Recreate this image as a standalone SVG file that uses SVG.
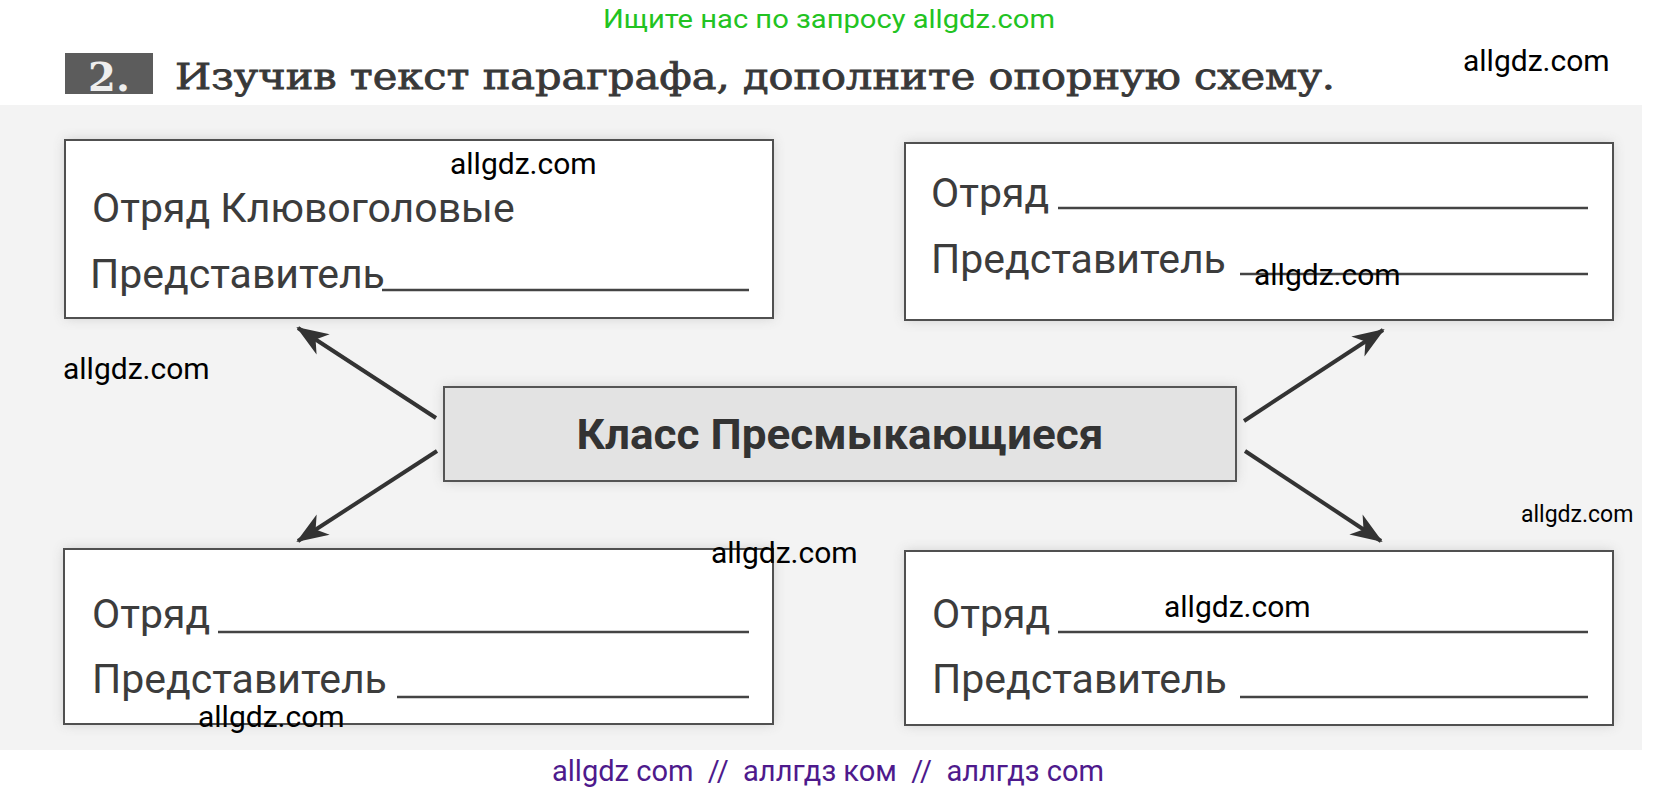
<svg xmlns="http://www.w3.org/2000/svg" width="1657" height="794" viewBox="0 0 1657 794">
<style>
.box{fill:#ffffff;stroke:#505050;stroke-width:2}
.cbox{fill:#e3e3e3;stroke:#555555;stroke-width:2}
.lbl{font-family:Roboto,"Liberation Sans",sans-serif;font-size:41px;fill:#3c3c3c}
.ul{stroke:#444444;stroke-width:2.5}
.arr{stroke:#333333;stroke-width:4;fill:none;marker-end:url(#ah)}
.wm{font-family:Roboto,"Liberation Sans",sans-serif;font-size:30px;fill:#000000}
.wms{font-family:Roboto,"Liberation Sans",sans-serif;font-size:23px;fill:#000000}
</style>
<defs>
<marker id="ah" markerUnits="userSpaceOnUse" markerWidth="40" markerHeight="30" viewBox="-32 -15 34 30" refX="0" refY="0" orient="auto">
<path d="M2,0 L-30,-12 L-21,0 L-30,12 Z" fill="#333333"/>
</marker>
<filter id="sh" x="-5%" y="-15%" width="110%" height="130%">
<feGaussianBlur stdDeviation="6"/>
</filter>
</defs>
<rect x="0" y="0" width="1657" height="794" fill="#ffffff"/>
<rect x="0" y="105" width="1642" height="645" fill="#f3f3f3"/>
<text x="829" y="28" text-anchor="middle" font-family="Roboto,'Liberation Sans',sans-serif" font-size="26" fill="#22c322" textLength="452" lengthAdjust="spacingAndGlyphs">Ищите нас по запросу allgdz.com</text>
<g id="title">
<rect x="65" y="53" width="88" height="41" fill="#5c5c5c"/>
<text x="109" y="91" text-anchor="middle" font-family="'DejaVu Serif','Liberation Serif',serif" font-weight="bold" font-size="40" fill="#eeeeee">2.</text>
<text x="175" y="89" font-family="'DejaVu Serif','Liberation Serif',serif" font-size="35" fill="#383838" stroke="#383838" stroke-width="0.8" textLength="1160" lengthAdjust="spacingAndGlyphs">Изучив текст параграфа, дополните опорную схему.</text>
</g>
<g id="shadows" fill="#9a9a9a" opacity="0.45" filter="url(#sh)">
<rect x="65" y="140" width="708" height="178"/>
<rect x="905" y="143" width="708" height="177"/>
<rect x="444" y="387" width="792" height="94"/>
<rect x="64" y="549" width="709" height="175"/>
<rect x="905" y="551" width="708" height="174"/>
</g>
<g id="connectors">
<line class="arr" x1="436" y1="418" x2="298" y2="328"/>
<line class="arr" x1="437" y1="451" x2="298" y2="541"/>
<line class="arr" x1="1244" y1="421" x2="1383" y2="330"/>
<line class="arr" x1="1245" y1="451" x2="1381" y2="541"/>
</g>
<g id="node-top-left">
<rect class="box" x="65" y="140" width="708" height="178"/>
<text class="lbl" x="92" y="222">Отряд Клювоголовые</text>
<text class="lbl" x="90" y="288">Представитель</text>
<line class="ul" x1="382" y1="290" x2="749" y2="290"/>
</g>
<g id="node-top-right">
<rect class="box" x="905" y="143" width="708" height="177"/>
<text class="lbl" x="931" y="207">Отряд</text>
<line class="ul" x1="1058" y1="208" x2="1588" y2="208"/>
<text class="lbl" x="931" y="273">Представитель</text>
<line class="ul" x1="1240" y1="274" x2="1588" y2="274"/>
</g>
<g id="node-center">
<rect class="cbox" x="444" y="387" width="792" height="94"/>
<text x="840" y="449" text-anchor="middle" font-family="Roboto,'Liberation Sans',sans-serif" font-weight="bold" font-size="42" fill="#333333" textLength="527" lengthAdjust="spacingAndGlyphs">Класс Пресмыкающиеся</text>
</g>
<g id="node-bottom-left">
<rect class="box" x="64" y="549" width="709" height="175"/>
<text class="lbl" x="92" y="628">Отряд</text>
<line class="ul" x1="218" y1="632" x2="749" y2="632"/>
<text class="lbl" x="92" y="693">Представитель</text>
<line class="ul" x1="397" y1="697" x2="749" y2="697"/>
</g>
<g id="node-bottom-right">
<rect class="box" x="905" y="551" width="708" height="174"/>
<text class="lbl" x="932" y="628">Отряд</text>
<line class="ul" x1="1058" y1="632" x2="1588" y2="632"/>
<text class="lbl" x="932" y="693">Представитель</text>
<line class="ul" x1="1240" y1="697" x2="1588" y2="697"/>
</g>
<g id="watermarks">
<text class="wm" x="1463" y="71">allgdz.com</text>
<text class="wm" x="450" y="174">allgdz.com</text>
<text class="wm" x="63" y="379">allgdz.com</text>
<text class="wm" x="1254" y="285">allgdz.com</text>
<text class="wm" x="711" y="563">allgdz.com</text>
<text class="wms" x="1521" y="522">allgdz.com</text>
<text class="wm" x="1164" y="617">allgdz.com</text>
<text class="wm" x="198" y="727">allgdz.com</text>
<text x="552" y="781" font-family="Roboto,'Liberation Sans',sans-serif" font-size="29" fill="#4e1a8c" style="white-space:pre" textLength="552" lengthAdjust="spacingAndGlyphs">allgdz com  //  аллгдз ком  //  аллгдз com</text>
</g>
</svg>
